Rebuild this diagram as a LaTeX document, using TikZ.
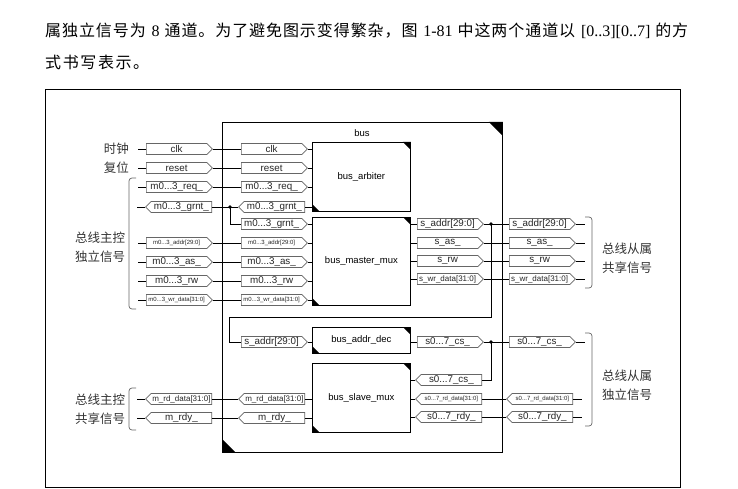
\documentclass[tikz,border=0pt]{standalone}
\usepackage{fontspec}
\setmainfont{Liberation Serif}
\setsansfont{Liberation Sans}
\newfontfamily\cjk{Noto Sans CJK SC}
\usetikzlibrary{shapes.symbols}
\def\spr#1{\sprx#1\relax}
\def\sprx#1{\ifx\relax#1\else#1\hskip0pt plus 1pt\relax\expandafter\sprx\fi}
\def\gap{\hskip 4pt plus 1pt\relax}
\tikzset{
  port/.style={shape=signal, signal pointer angle=90, signal from=nothing, draw=black!60, line width=0.7pt, fill=white,
    minimum width=66pt, minimum height=11pt, inner sep=0pt, font=\sffamily\fontsize{9.8}{9.8}\selectfont, text=black!85},
  pR/.style={port, signal to=east},
  pL/.style={port, signal to=west},
  small/.style={font=\sffamily\fontsize{6}{6}\selectfont},
  mid/.style={font=\sffamily\fontsize{8}{8}\selectfont},
  wire/.style={draw=black, line width=0.7pt},
  blk/.style={draw=black, line width=0.8pt, inner sep=0pt, anchor=north west, minimum width=98pt, font=\sffamily\fontsize{9.5}{10}\selectfont},
  brk/.style={draw=black!60, line width=0.7pt, rounded corners=3pt},
  cnlab/.style={font=\cjk\fontsize{12.5}{19}\selectfont, text=black!80, align=center, inner sep=0pt},
  dot/.style={fill=black}
}
\newcommand{\blkcorner}[2]{%
  \fill (#1.north east) -- ++(-#2,0) -- ++(#2,#2) -- cycle;
  \fill (#1.south west) -- ++(#2,0) -- ++(-#2,-#2) -- cycle;}
\begin{document}
\begin{tikzpicture}[x=1pt,y=-1pt]
\useasboundingbox (0,0) rectangle (738,489);
% paragraph text
\node[anchor=west, inner sep=0pt] (t1) at (45,31) {\fontsize{16}{16}\selectfont\makebox[643pt][s]{{\cjk\spr{属独立信号为}}\gap 8\gap{\cjk\spr{通道。为了避免图示变得繁杂，图}}\gap 1-81\gap{\cjk\spr{中这两个通道以}}\gap[0..3][0..7]\gap{\cjk\spr{的}方}}};
\node[anchor=west, inner sep=0pt] (t2) at (45,62) {\fontsize{16}{16}\selectfont\makebox[104pt][s]{\cjk\spr{式书写表示}。}};
% outer frame
\draw[line width=0.9pt] (45,89) rectangle (680,487);
% bus box
\node[draw=black, line width=0.9pt, anchor=north west, minimum width=280pt, minimum height=330pt, inner sep=0pt] (bus) at (222,122) {};
\blkcorner{bus}{14}
\node[font=\sffamily\fontsize{9.5}{10}\selectfont] (buslab) at (362,133) {bus};
% blocks
\node[blk, minimum height=69pt] (arb) at (312,142) {bus\_arbiter};
\node[blk, minimum height=88pt] (mm) at (312,217) {bus\_master\_mux};
\node[blk, minimum height=26pt] (ad) at (312,327) {bus\_addr\_dec};
\node[blk, minimum height=69pt] (sm) at (312,363) {bus\_slave\_mux};
\blkcorner{arb}{8}
\blkcorner{mm}{8}
\blkcorner{ad}{8}
\blkcorner{sm}{8}
% left outer ports
\node[pR, anchor=west] (oclk) at (146,149) {clk};
\node[pR, anchor=west] (orst) at (146,168) {reset};
\node[pR, anchor=west] (oreq) at (146,187) {m0...3\_req\_};
\node[pL, anchor=east] (ogrnt) at (212,207) {m0...3\_grnt\_};
\node[pR, anchor=west, small] (oaddr) at (146,243) {m0...3\_addr[29:0]};
\node[pR, anchor=west] (oas) at (146,262) {m0...3\_as\_};
\node[pR, anchor=west] (orw) at (146,281) {m0...3\_rw};
\node[pR, anchor=west, small] (owr) at (146,300) {m0...3\_wr\_data[31:0]};
\node[pL, anchor=east, mid] (ordata) at (212,399) {m\_rd\_data[31:0]};
\node[pL, anchor=east] (ordy) at (212,418) {m\_rdy\_};
% left inner ports
\node[pR, anchor=west] (iclk) at (241,149) {clk};
\node[pR, anchor=west] (irst) at (241,168) {reset};
\node[pR, anchor=west] (ireq) at (241,187) {m0...3\_req\_};
\node[pL, anchor=east] (igrnt) at (305,207) {m0...3\_grnt\_};
\node[pR, anchor=west] (igrntb) at (241,224) {m0...3\_grnt\_};
\node[pR, anchor=west, small] (iaddr) at (241,243) {m0...3\_addr[29:0]};
\node[pR, anchor=west] (ias) at (241,262) {m0...3\_as\_};
\node[pR, anchor=west] (irw) at (241,281) {m0...3\_rw};
\node[pR, anchor=west, small] (iwr) at (241,300) {m0...3\_wr\_data[31:0]};
\node[pR, anchor=west] (isaddr) at (241,342) {s\_addr[29:0]};
\node[pL, anchor=east, mid] (irdata) at (305,399) {m\_rd\_data[31:0]};
\node[pL, anchor=east] (irdy) at (305,418) {m\_rdy\_};
% right inner ports
\node[pR, anchor=west] (msaddr) at (417,224) {s\_addr[29:0]};
\node[pR, anchor=west] (msas) at (417,243) {s\_as\_};
\node[pR, anchor=west] (msrw) at (417,261) {s\_rw};
\node[pR, anchor=west, mid] (mswr) at (417,279) {s\_wr\_data[31:0]};
\node[pR, anchor=west] (cs) at (417,342) {s0...7\_cs\_};
\node[pL, anchor=east] (csb) at (482,380) {s0...7\_cs\_};
\node[pL, anchor=east, small] (srdata) at (482,399) {s0...7\_rd\_data[31:0]};
\node[pL, anchor=east] (srdy) at (482,417) {s0...7\_rdy\_};
% right outer ports
\node[pR, anchor=west] (osaddr) at (509,224) {s\_addr[29:0]};
\node[pR, anchor=west] (osas) at (509,243) {s\_as\_};
\node[pR, anchor=west] (osrw) at (509,261) {s\_rw};
\node[pR, anchor=west, mid] (oswr) at (509,279) {s\_wr\_data[31:0]};
\node[pR, anchor=west] (ocs) at (509,342) {s0...7\_cs\_};
\node[pL, anchor=east, small] (osrdata) at (573,399) {s0...7\_rd\_data[31:0]};
\node[pL, anchor=east] (osrdy) at (573,417) {s0...7\_rdy\_};
% left wires
\foreach \o/\i/\b in {oclk/iclk/arb, orst/irst/arb, oreq/ireq/arb, oaddr/iaddr/mm, oas/ias/mm, orw/irw/mm, owr/iwr/mm}{
  \draw[wire] (\o.west) -- ++(-8,0);
  \draw[wire] (\o.east) -- (\i.west);
  \draw[wire] (\i.east) -- (\i.east -| \b.west);
}
\draw[wire] (ogrnt.west) -- ++(-8,0);
\draw[wire] (ogrnt.east) -- (igrnt.west);
\draw[wire] (igrnt.east) -- (igrnt.east -| arb.west);
\coordinate (j1) at (230,207);
\draw[wire] (j1) |- (igrntb.west);
\draw[wire] (igrntb.east) -- (igrntb.east -| mm.west);
\fill[dot] (j1) circle (1.8);
\foreach \o/\i in {ordata/irdata, ordy/irdy}{
  \draw[wire] (\o.west) -- ++(-8,0);
  \draw[wire] (\o.east) -- (\i.west);
  \draw[wire] (\i.east) -- (\i.east -| sm.west);
}
% right wires
\foreach \i/\o in {msaddr/osaddr, msas/osas, msrw/osrw, mswr/oswr}{
  \draw[wire] (\i.west -| mm.east) -- (\i.west);
  \draw[wire] (\i.east) -- (\o.west);
  \draw[wire] (\o.east) -- ++(9,0);
}
\coordinate (j2) at (491,224);
\coordinate (c1) at (229,317);
\draw[wire] (j2) |- (c1) |- (isaddr.west);
\draw[wire] (isaddr.east) -- (isaddr.east -| ad.west);
\fill[dot] (j2) circle (1.8);
\draw[wire] (cs.west -| ad.east) -- (cs.west);
\draw[wire] (cs.east) -- (ocs.west);
\draw[wire] (ocs.east) -- ++(9,0);
\coordinate (j3) at (491,342);
\draw[wire] (j3) |- (csb.east);
\draw[wire] (csb.west) -- (csb.west -| sm.east);
\fill[dot] (j3) circle (1.8);
\foreach \i/\o in {srdata/osrdata, srdy/osrdy}{
  \draw[wire] (\o.east) -- ++(9,0);
  \draw[wire] (\o.west) -- (\i.east);
  \draw[wire] (\i.west) -- (\i.west -| sm.east);
}
% brackets
\draw[brk] (136,178) -- (129,178) -- (129,309) -- (136,309);
\draw[brk] (136,388) -- (129,388) -- (129,430) -- (136,430);
\draw[brk] (585,217) -- (592,217) -- (592,288) -- (585,288);
\draw[brk] (585,333) -- (592,333) -- (592,426) -- (585,426);
% chinese labels
\node[cnlab, anchor=east] (lclk) at (129,149) {时钟};
\node[cnlab, anchor=east] (lrst) at (129,168) {复位};
\node[cnlab] (lmi) at (100,247.5) {总线主控\\独立信号};
\node[cnlab] (lms) at (100,409.5) {总线主控\\共享信号};
\node[cnlab] (lss) at (627,258.5) {总线从属\\共享信号};
\node[cnlab] (lsi) at (627,385.5) {总线从属\\独立信号};
\end{tikzpicture}
\end{document}
